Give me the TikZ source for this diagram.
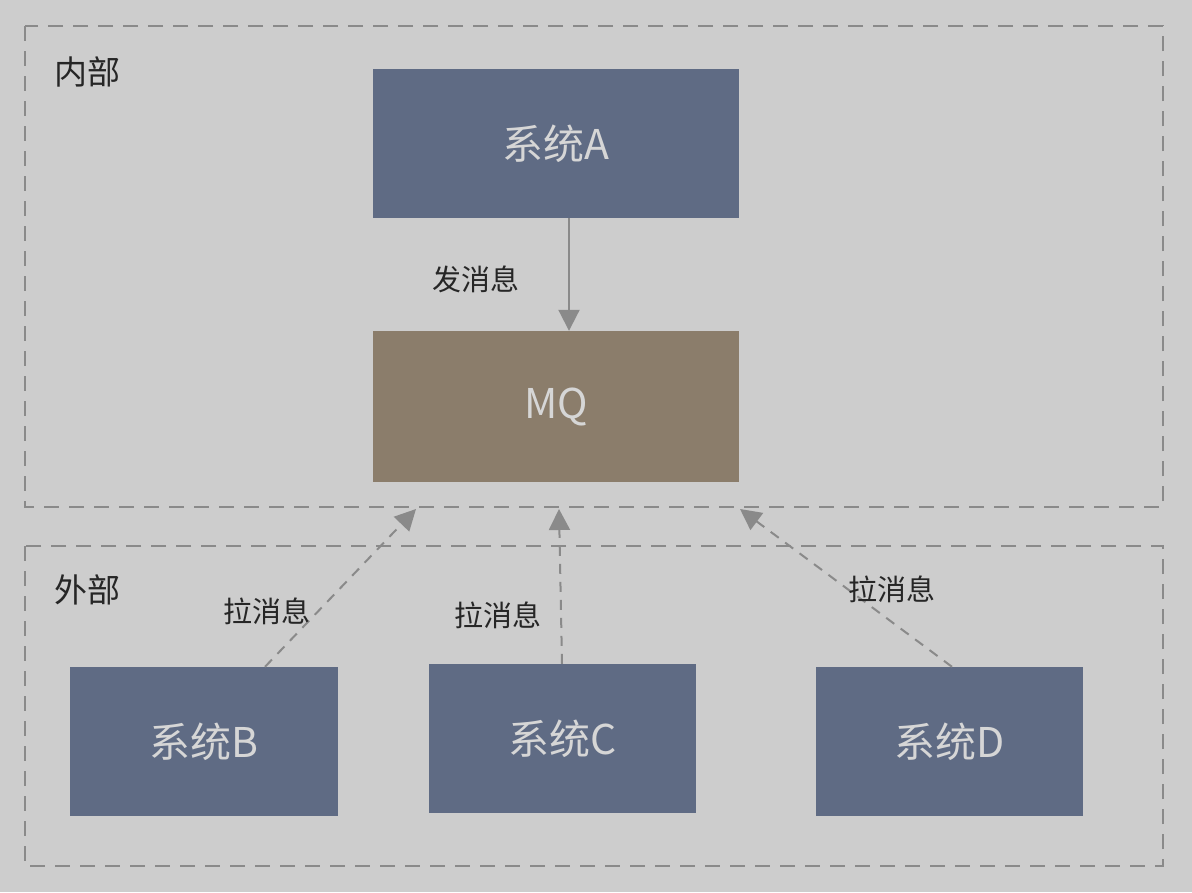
\documentclass[tikz,border=0pt]{standalone}
\usepackage{fontspec}
\setmainfont{Noto Sans CJK SC}
\usetikzlibrary{arrows.meta}
\definecolor{bg}{HTML}{CDCDCD}
\definecolor{sysblue}{HTML}{5F6B84}
\definecolor{mqbrown}{HTML}{8B7D6B}
\definecolor{boxtext}{HTML}{D6D6D6}
\definecolor{linegray}{HTML}{8A8A8A}
\tikzset{
  sysbox/.style={fill=sysblue, draw=none, inner sep=0pt, text=boxtext, font=\fontsize{41}{44}\selectfont},
  mqbox/.style={fill=mqbrown, draw=none, inner sep=0pt, text=boxtext, font=\fontsize{41}{44}\selectfont},
  region/.style={draw=linegray, line width=2pt, dash pattern=on 15pt off 10pt},
  lbl/.style={text=black!85, font=\fontsize{29}{32}\selectfont, inner sep=0pt},
  reglbl/.style={text=black!85, font=\fontsize{33}{36}\selectfont, inner sep=0pt},
  conn/.style={draw=linegray, line width=2pt, -{Triangle[width=21pt,length=21pt]}},
  dconn/.style={conn, dash pattern=on 10pt off 8pt},
}
\begin{document}
\begin{tikzpicture}[x=1pt,y=-1pt]
\fill[bg] (0,0) rectangle (1192,892);
\useasboundingbox (0,0) rectangle (1192,892);
\draw[region] (25,26) rectangle (1163,507);
\draw[region] (25,546) rectangle (1163,866);
\node[reglbl] (inner) at (87,72) {内部};
\node[reglbl] (outer) at (87,590) {外部};
\node[sysbox, minimum width=366pt, minimum height=149pt] (A) at (556,143.5) {系统A};
\node[mqbox, minimum width=366pt, minimum height=151pt] (MQ) at (556,406.5) {MQ};
\node[sysbox, minimum width=268pt, minimum height=149pt] (B) at (204,741.5) {系统B};
\node[sysbox, minimum width=267pt, minimum height=149pt] (C) at (562.5,738.5) {系统C};
\node[sysbox, minimum width=267pt, minimum height=149pt] (D) at (949.5,741.5) {系统D};
\coordinate (tB) at (416,509);
\coordinate (tC) at (559,509);
\coordinate (tD) at (740,509);
\draw[conn] (A.south -| 569,0) -- (MQ.north -| 569,0);
\draw[dconn] (B.north -| 265,0) -- (tB);
\draw[dconn] (C.north -| 562,0) -- (tC);
\draw[dconn] (D.north -| 952,0) -- (tD);
\node[lbl] (l1) at (476,279) {发消息};
\node[lbl] (l2) at (267,611) {拉消息};
\node[lbl] (l3) at (498,615) {拉消息};
\node[lbl] (l4) at (892,589) {拉消息};
\end{tikzpicture}
\end{document}
